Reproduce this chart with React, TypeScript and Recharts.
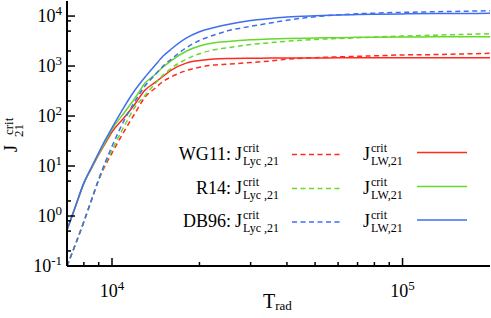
import React from 'react';
import { LineChart, Line, XAxis, YAxis, Customized } from 'recharts';

// Radiation temperature grid (K)
const T_RAD = [7000, 7500, 8000, 8500, 9000, 9500, 10000, 11000, 12000, 13000, 14000, 15000, 16000, 18000, 20000, 22500, 25000, 30000, 35000, 40000, 50000, 60000, 70000, 80000, 100000, 130000, 160000, 200000];

// J21 crit values
const WG11_LYC = [0.1, 0.28, 0.77, 2.09, 5.3, 10.5, 18.2, 49, 114, 240, 352, 492, 608, 809, 946, 1052, 1091, 1175, 1259, 1368, 1472, 1521, 1563, 1600, 1667, 1698, 1746, 1795];
const WG11_LW = [0.525, 1.6, 4.5, 9.0, 16.8, 29, 48, 92, 174, 331, 461, 625, 828, 1143, 1288, 1380, 1413, 1432, 1440, 1445, 1452, 1459, 1462, 1464, 1466, 1468, 1470, 1470];
const R14_LYC = [0.1, 0.28, 0.77, 2.09, 5.4, 11.6, 20.9, 61.7, 151, 261, 429, 661, 904, 1368, 1762, 2118, 2323, 2690, 2924, 3133, 3404, 3548, 3681, 3800, 3980, 4150, 4285, 4430];
const R14_LW = [0.525, 1.6, 4.5, 9.2, 17.5, 31, 54, 115, 229, 457, 661, 955, 1288, 1977, 2510, 2910, 3090, 3340, 3470, 3550, 3630, 3700, 3750, 3780, 3820, 3835, 3850, 3850];
const DB96_LYC = [0.1, 0.28, 0.77, 2.09, 5.4, 12.3, 24.8, 81, 197, 402, 649, 1000, 1380, 2310, 3250, 4190, 5060, 6220, 7240, 8240, 9680, 10570, 11120, 11430, 11860, 12190, 12470, 12770];
const DB96_LW = [0.525, 1.6, 4.6, 9.5, 18.5, 34, 58, 151, 331, 603, 1000, 1585, 2190, 3600, 4850, 5890, 6760, 8130, 8910, 9550, 10140, 10470, 10700, 10850, 11050, 11220, 11250, 11320];

// Axis ticks
const X_TICKS = [8000, 9000, 10000, 20000, 30000, 40000, 50000, 60000, 70000, 80000, 90000, 100000];
const Y_TICKS = [0.1, 0.2, 0.5, 0.8, 1, 2, 5, 8, 10, 20, 50, 80, 100, 200, 500, 800, 1000, 2000, 5000, 8000, 10000];

const RED = '#ff2a1f';
const GREEN = '#66d92c';
const BLUE = '#3f6ef0';

const LEGEND_ROWS = [
  { name: 'WG11:', color: RED },
  { name: 'R14:', color: GREEN },
  { name: 'DB96:', color: BLUE },
];

const data = T_RAD.map((t, i) => ({
  t,
  wg11Lyc: WG11_LYC[i],
  wg11Lw: WG11_LW[i],
  r14Lyc: R14_LYC[i],
  r14Lw: R14_LW[i],
  db96Lyc: DB96_LYC[i],
  db96Lw: DB96_LW[i],
}));

const FONT = '"Liberation Serif", "DejaVu Serif", serif';
const MAIN = 18;
const SMALL = 13;

const isMajor = (v: number) => Math.abs(Math.log10(v) - Math.round(Math.log10(v))) < 1e-6;
const expOf = (v: number) => Math.round(Math.log10(v));

const LeftTick = (props: any) => {
  const { x, y, payload } = props;
  const v = payload.value;
  const major = isMajor(v);
  return (
    <g>
      <line x1={x} x2={x + (major ? 8 : 4)} y1={y} y2={y} stroke="#000" strokeWidth={1.5} />
      {major && (
        <text x={x - 5} y={y + 6} textAnchor="end" fontFamily={FONT} fontSize={MAIN} fill="#000">
          10<tspan dy={-7} fontSize={SMALL}>{String(expOf(v))}</tspan>
        </text>
      )}
    </g>
  );
};

const RightTick = (props: any) => {
  const { x, y, payload } = props;
  const major = isMajor(payload.value);
  return <line x1={x} x2={x - (major ? 8 : 4)} y1={y} y2={y} stroke="#000" strokeWidth={1.5} />;
};

const BottomTick = (props: any) => {
  const { x, y, payload } = props;
  const v = payload.value;
  const major = isMajor(v);
  return (
    <g>
      <line x1={x} x2={x} y1={y} y2={y - (major ? 8 : 4)} stroke="#000" strokeWidth={1.5} />
      {major && (
        <text x={x} y={y + 31} textAnchor="middle" fontFamily={FONT} fontSize={MAIN} fill="#000">
          10<tspan dy={-7} fontSize={SMALL}>{String(expOf(v))}</tspan>
        </text>
      )}
    </g>
  );
};

const TopTick = (props: any) => {
  const { x, y, payload } = props;
  const major = isMajor(payload.value);
  return <line x1={x} x2={x} y1={y} y2={y + (major ? 8 : 4)} stroke="#000" strokeWidth={1.5} />;
};

const Jsym = ({ x, y, sub }: { x: number; y: number; sub: string }) => (
  <g fontFamily={FONT} fill="#000">
    <text x={x} y={y} fontSize={MAIN}>J</text>
    <text x={x + 8} y={y - 8} fontSize={12}>crit</text>
    <text x={x + 8} y={y + 5} fontSize={12}>{sub}</text>
  </g>
);

const Decorations = () => {
  const baselines = [159.5, 193.5, 227];
  return (
    <g>
      {LEGEND_ROWS.map((r, i) => {
        const b = baselines[i];
        return (
          <g key={r.name}>
            <text x={231} y={b} textAnchor="end" fontFamily={FONT} fontSize={MAIN} fill="#000">{r.name}</text>
            <Jsym x={235} y={b} sub="Lyc ,21" />
            <line x1={292} x2={342} y1={b - 5} y2={b - 5} stroke={r.color} strokeWidth={1.5} strokeDasharray="5 3.5" />
            <Jsym x={363} y={b} sub="LW,21" />
            <line x1={417} x2={467} y1={b - 7} y2={b - 7} stroke={r.color} strokeWidth={1.5} />
          </g>
        );
      })}
      {/* x axis title */}
      <text x={263} y={308} fontFamily={FONT} fontSize={20} fill="#000">
        T<tspan dy={2} fontSize={SMALL}>rad</tspan>
      </text>
      {/* y axis title, rotated to read bottom-to-top */}
      <g transform="translate(17,133) rotate(-90)" fontFamily={FONT} fill="#000">
        <text x={-19} y={0} fontSize={18}>J</text>
        <text x={-2} y={-4} fontSize={13}>crit</text>
        <text x={-4} y={6} fontSize={13}>21</text>
      </g>
    </g>
  );
};

export default function App() {
  return (
    <div style={{ position: 'absolute', left: 0, top: 0, background: '#fff' }}>
      <LineChart width={491} height={318} data={data} margin={{ top: 1, right: 1, bottom: 0, left: 0 }}>
        <XAxis
          dataKey="t"
          type="number"
          scale="log"
          domain={[7000, 200000]}
          allowDataOverflow
          ticks={X_TICKS}
          interval={0}
          height={52}
          tickSize={0}
          tickMargin={0}
          tickLine={false}
          tick={<BottomTick />}
          axisLine={{ stroke: '#000', strokeWidth: 2 }}
        />
        <XAxis
          xAxisId="top"
          orientation="top"
          dataKey="t"
          type="number"
          scale="log"
          domain={[7000, 200000]}
          allowDataOverflow
          ticks={X_TICKS}
          interval={0}
          height={0}
          tickSize={0}
          tickMargin={0}
          tickLine={false}
          tick={<TopTick />}
          axisLine={{ stroke: '#000', strokeWidth: 2 }}
        />
        <YAxis
          type="number"
          scale="log"
          domain={[0.1, 20000]}
          allowDataOverflow
          ticks={Y_TICKS}
          interval={0}
          width={67}
          tickSize={0}
          tickMargin={0}
          tickLine={false}
          tick={<LeftTick />}
          axisLine={{ stroke: '#000', strokeWidth: 2 }}
        />
        <YAxis
          yAxisId="right"
          orientation="right"
          type="number"
          scale="log"
          domain={[0.1, 20000]}
          allowDataOverflow
          ticks={Y_TICKS}
          interval={0}
          width={0}
          tickSize={0}
          tickMargin={0}
          tickLine={false}
          tick={<RightTick />}
          axisLine={{ stroke: '#000', strokeWidth: 2 }}
        />
        <Line type="monotone" dataKey="wg11Lyc" stroke={RED} strokeWidth={1.5} strokeDasharray="5 3.5" dot={false} isAnimationActive={false} />
        <Line type="monotone" dataKey="wg11Lw" stroke={RED} strokeWidth={1.5} dot={false} isAnimationActive={false} />
        <Line type="monotone" dataKey="r14Lyc" stroke={GREEN} strokeWidth={1.5} strokeDasharray="5 3.5" dot={false} isAnimationActive={false} />
        <Line type="monotone" dataKey="r14Lw" stroke={GREEN} strokeWidth={1.5} dot={false} isAnimationActive={false} />
        <Line type="monotone" dataKey="db96Lyc" stroke={BLUE} strokeWidth={1.5} strokeDasharray="5 3.5" dot={false} isAnimationActive={false} />
        <Line type="monotone" dataKey="db96Lw" stroke={BLUE} strokeWidth={1.5} dot={false} isAnimationActive={false} />
        <Customized component={Decorations} />
      </LineChart>
    </div>
  );
}
